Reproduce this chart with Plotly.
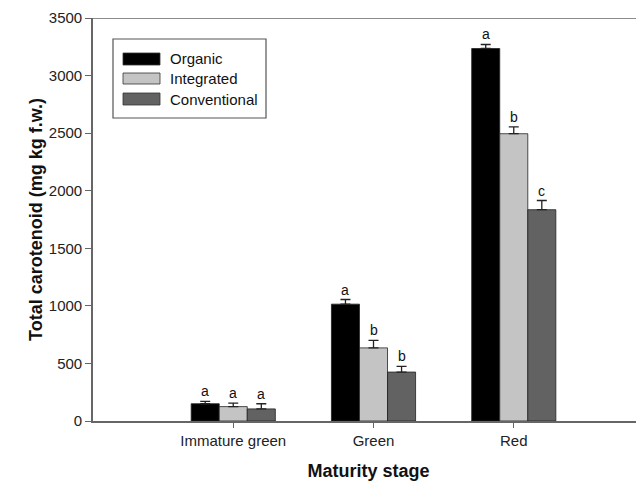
import plotly.graph_objects as go

stages = ["Immature green", "Green", "Red"]
series = ["Organic", "Integrated", "Conventional"]
organic = [150, 1015, 3235]
organic_err = [20, 40, 35]
integrated = [125, 635, 2495]
integrated_err = [30, 65, 60]
conventional = [105, 425, 1835]
conventional_err = [45, 50, 80]
letters = {
    "Organic": ["a", "a", "a"],
    "Integrated": ["a", "b", "b"],
    "Conventional": ["a", "b", "c"],
}
colors = {"Organic": "#000000", "Integrated": "#c4c4c4", "Conventional": "#626262"}

values = {"Organic": organic, "Integrated": integrated, "Conventional": conventional}
errors = {"Organic": organic_err, "Integrated": integrated_err, "Conventional": conventional_err}
offsets = {"Organic": -0.2, "Integrated": 0.0, "Conventional": 0.2}

# page body has an 8px default margin; lay the figure out to compensate
OFF = 8
W, H = 644 - OFF, 486 - OFF
L, R, T, B = 93 - OFF, 0, 18 - OFF, 486 - 421
PW, PH = W - L - R, H - T - B
FONT = "Liberation Sans, Arial, sans-serif"


def px(xp):
    return (xp - OFF - L) / PW


def py(yp):
    return (H - B - (yp - OFF)) / PH


fig = go.Figure()
xpos = list(range(len(stages)))
for s in series:
    fig.add_trace(go.Bar(
        name=s,
        x=[i + offsets[s] for i in xpos],
        y=values[s],
        width=0.2,
        showlegend=False,
        marker=dict(color=colors[s], line=dict(color="#222222", width=0.8)),
        error_y=dict(type="data", array=errors[s], arrayminus=[0] * len(stages),
                     symmetric=False, color="#222222", thickness=1.3, width=5),
    ))
    for i, (v, e, l) in enumerate(zip(values[s], errors[s], letters[s])):
        fig.add_annotation(x=i + offsets[s], y=v + e, text=l, showarrow=False,
                           yanchor="bottom", yshift=0,
                           font=dict(family=FONT, size=14, color="#111"))

# top frame line
fig.add_shape(type="line", xref="paper", yref="y", x0=0, x1=1, y0=3500, y1=3500,
              line=dict(color="#666666", width=1.6))

# custom legend (wide swatches like the original)
fig.add_shape(type="rect", xref="paper", yref="paper",
              x0=px(113), x1=px(266), y0=py(118), y1=py(39),
              line=dict(color="#555555", width=1.2), fillcolor="white", layer="below")
sw_rows = [(53, 65), (73, 84), (93, 105)]
for s, (ya, yb) in zip(series, sw_rows):
    fig.add_shape(type="rect", xref="paper", yref="paper",
                  x0=px(123), x1=px(160), y0=py(yb), y1=py(ya),
                  line=dict(color="#333333", width=0.8), fillcolor=colors[s])
    fig.add_annotation(xref="paper", yref="paper", x=px(168), y=py((ya + yb) / 2),
                       text=s, showarrow=False, xanchor="left", yanchor="middle",
                       font=dict(family=FONT, size=15, color="#111"))

fig.update_layout(
    width=W, height=H,
    margin=dict(l=L, r=R, t=T, b=B),
    plot_bgcolor="white", paper_bgcolor="white",
    barmode="overlay",
    showlegend=False,
    font=dict(family=FONT, size=12, color="#222"),
    xaxis=dict(
        range=[-1, 3 - 10 / 140],
        tickmode="array", tickvals=xpos, ticktext=stages,
        showline=True, linecolor="#666666", linewidth=1.6,
        ticks="outside", ticklen=5, tickcolor="#666666",
        showgrid=False, zeroline=False, automargin=False,
        tickfont=dict(family=FONT, size=15, color="#222"),
        title=dict(text="<b>Maturity stage</b>", font=dict(family=FONT, size=18, color="#111"),
                   standoff=17),
    ),
    yaxis=dict(
        range=[0, 3500],
        tickvals=[0, 500, 1000, 1500, 2000, 2500, 3000, 3500],
        showline=True, linecolor="#666666", linewidth=1.6,
        ticks="outside", ticklen=6, tickcolor="#666666",
        showgrid=False, zeroline=False, automargin=False,
        tickfont=dict(family=FONT, size=15, color="#222"),
        title=dict(text="<b>Total carotenoid (mg kg f.w.)</b>",
                   font=dict(family=FONT, size=18, color="#111"), standoff=2),
    ),
)

fig.write_html("out.html")
